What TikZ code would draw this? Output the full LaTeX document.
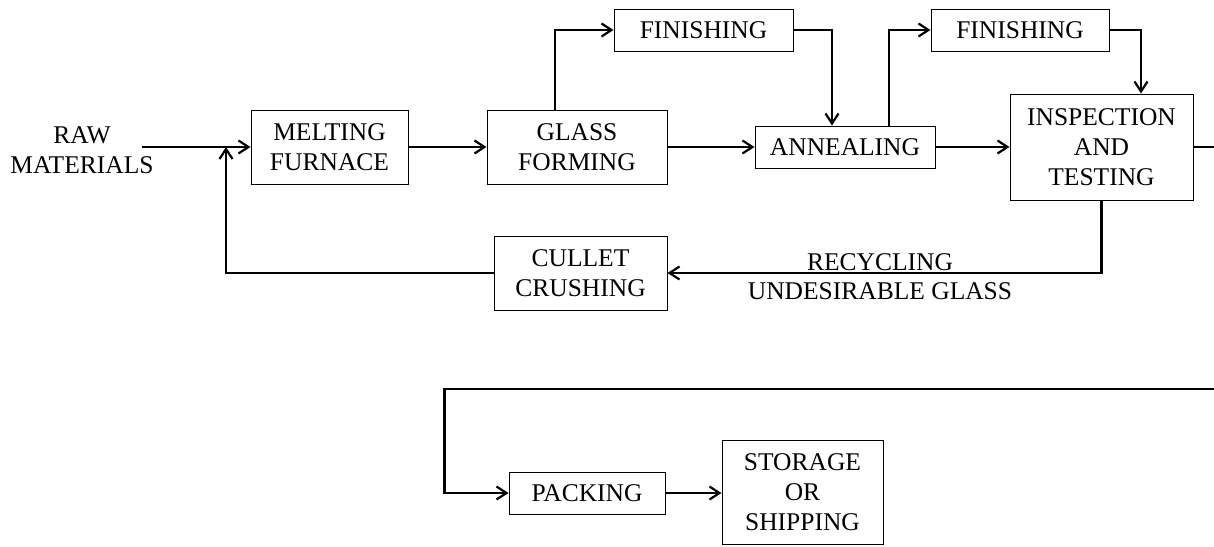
\documentclass[tikz,border=0pt]{standalone}
\usepackage{fontspec}
\setmainfont{Liberation Serif}
\usetikzlibrary{arrows.meta,calc}
\begin{document}
\begin{tikzpicture}[x=1pt,y=-1pt,
  every node/.style={font=\fontsize{25.5}{30}\selectfont, align=center, inner sep=0pt},
  box/.style={draw, line width=1pt, minimum width=#1},
  conn/.style={line width=2.2pt, -{Straight Barb[length=10pt,width=13pt,line width=2.2pt]}},
  plain/.style={line width=2.2pt}]
\useasboundingbox (0,0) rectangle (1214,546);
\node (raw) at (82,150) {RAW\\MATERIALS};
\node[box=157, minimum height=74] (melt) at (329.5,147) {MELTING\\FURNACE};
\node[box=180, minimum height=74] (form) at (577,147) {GLASS\\FORMING};
\node[box=179, minimum height=42] (fin1) at (703.5,30) {FINISHING};
\node[box=180, minimum height=42] (anneal) at (845,147) {ANNEALING};
\node[box=178, minimum height=42] (fin2) at (1020,30) {FINISHING};
\node[box=183, minimum height=106] (insp) at (1101.5,147) {INSPECTION\\AND\\TESTING};
\node[box=173, minimum height=74] (cullet) at (580.5,273) {CULLET\\CRUSHING};
\node (rec) at (880,262) {RECYCLING};
\node (und) at (880,291) {UNDESIRABLE GLASS};
\node[box=156, minimum height=42] (pack) at (587,493) {PACKING};
\node[box=161, minimum height=104] (store) at (802.5,492) {STORAGE\\OR\\SHIPPING};
\coordinate (rawout) at (142,147);
\coordinate (join) at (226,147);
\coordinate (redge1) at (1214,147);
\coordinate (redge2) at (1214,389);
\draw[conn] (rawout) -- (melt.west);
\draw[conn] (cullet.west) -| (join);
\draw[conn] (melt.east) -- (form.west);
\draw[conn] (form.east) -- (anneal.west);
\draw[conn] ([xshift=-22pt]form.north) |- (fin1.west);
\draw[conn] (fin1.east) -| ([xshift=-13pt]anneal.north);
\draw[conn] ([xshift=44pt]anneal.north) |- (fin2.west);
\draw[conn] (fin2.east) -| ([xshift=39.5pt]insp.north);
\draw[conn] (anneal.east) -- (insp.west);
\draw[plain] (insp.east) -- (redge1);
\draw[conn] (insp.south) |- (cullet.east);
\draw[conn] (redge2) -| ($(pack.west)+(-64,0)$) -- (pack.west);
\draw[conn] (pack.east) -- (pack.east -| store.west);
\end{tikzpicture}
\end{document}
